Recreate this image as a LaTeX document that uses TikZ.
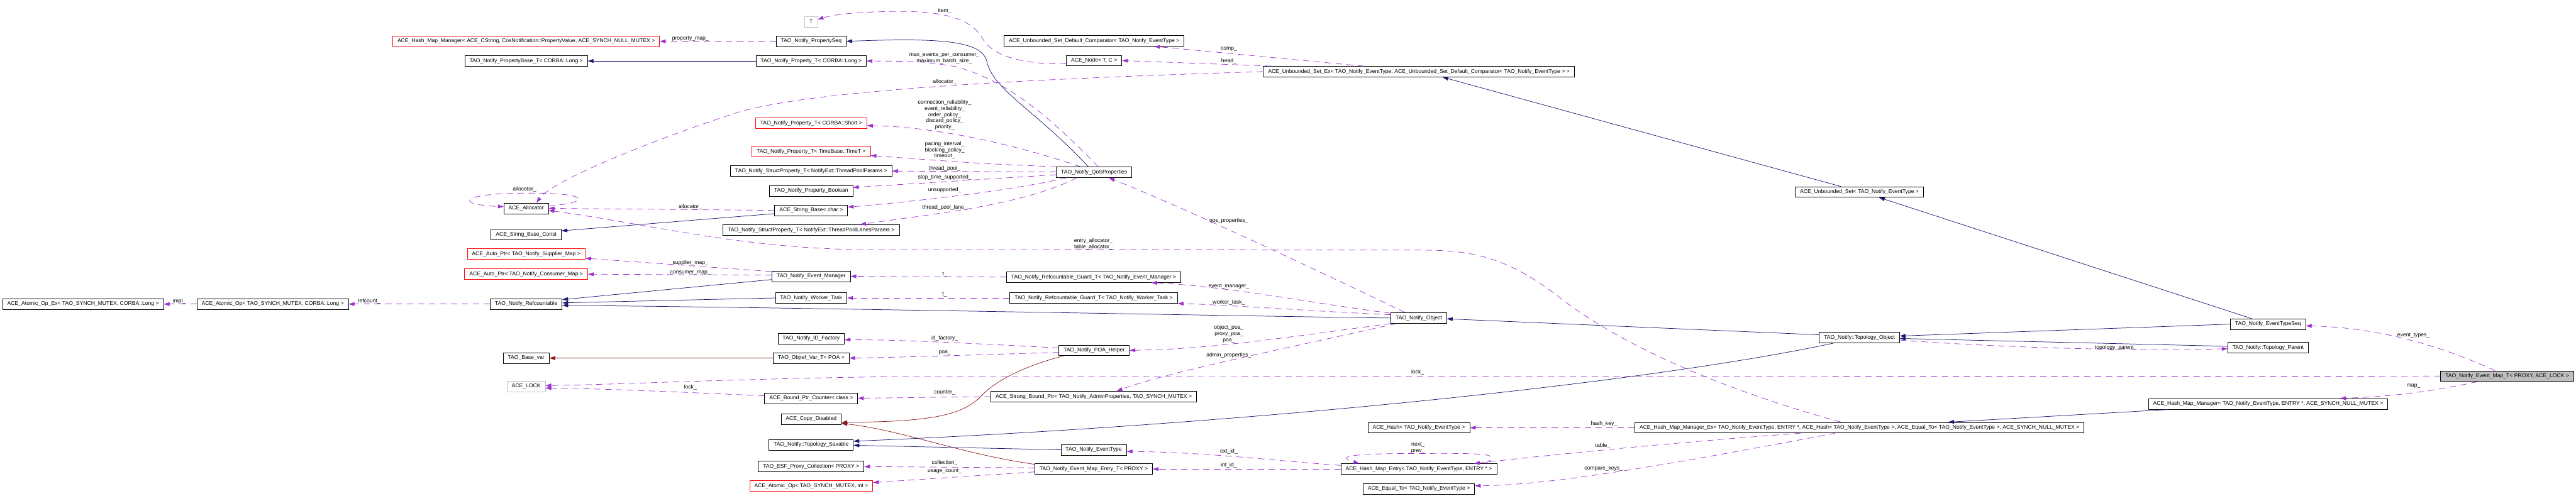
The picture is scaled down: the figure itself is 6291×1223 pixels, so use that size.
\documentclass[tikz,border=0pt]{standalone}
\usepackage{fontspec}
\setmainfont{Liberation Sans}
\usepackage{tikz}
\usetikzlibrary{arrows.meta,calc}
\definecolor{inhblue}{HTML}{191970}
\definecolor{privred}{HTML}{8B1A1A}
\definecolor{usepurple}{HTML}{9A32CD}
\definecolor{nodegray}{HTML}{BFBFBF}

\begin{document}
\begin{tikzpicture}[
  x=0.025cm, y=-0.025cm,
  font=\fontsize{9.4}{10.6}\selectfont,
  >={Triangle[length=3.5mm,width=2.3mm]},
  cls/.style={draw, fill=white, minimum height=6.5mm, inner xsep=8.2pt, inner ysep=0pt, line width=0.8pt},
  trunc/.style={cls, draw=red},
  undoc/.style={cls, draw=nodegray},
  cur/.style={cls, fill=nodegray},
  pub/.style={->, draw=inhblue, line width=0.8pt},
  priv/.style={->, draw=privred, line width=0.8pt},
  uses/.style={->, draw=usepurple, line width=0.8pt, dash pattern=on 11pt off 8pt},
  lbl/.style={inner sep=0pt, align=center}
]
\useasboundingbox (0,0) rectangle (6291,1223);
% left end
\node[cls]   (atomicex)   at (203,743)  {ACE\_Atomic\_Op\_Ex< TAO\_SYNCH\_MUTEX, CORBA::Long >};
\node[cls]   (atomiclong) at (666,743)  {ACE\_Atomic\_Op< TAO\_SYNCH\_MUTEX, CORBA::Long >};
% third column
\node[trunc] (hashcstr)   at (1285,101) {ACE\_Hash\_Map\_Manager< ACE\_CString, CosNotification::PropertyValue, ACE\_SYNCH\_NULL\_MUTEX >};
\node[cls]   (propbase)   at (1285,149) {TAO\_Notify\_PropertyBase\_T< CORBA::Long >};
\node[cls]   (alloc)      at (1285,509) {ACE\_Allocator};
\node[cls]   (strconst)   at (1285,573) {ACE\_String\_Base\_Const};
\node[trunc] (supmap)     at (1285,621) {ACE\_Auto\_Ptr< TAO\_Notify\_Supplier\_Map >};
\node[trunc] (conmap)     at (1285,670) {ACE\_Auto\_Ptr< TAO\_Notify\_Consumer\_Map >};
\node[cls]   (refcnt)     at (1285,743) {TAO\_Notify\_Refcountable};
\node[cls]   (basevar)    at (1285,875) {TAO\_Base\_var};
\node[undoc] (acelock)    at (1285,944) {ACE\_LOCK};
% fourth column
\node[undoc] (tparam)     at (1981,53)  {T};
\node[cls]   (propseq)    at (1981,101) {TAO\_Notify\_PropertySeq};
\node[cls]   (proplong)   at (1981,149) {TAO\_Notify\_Property\_T< CORBA::Long >};
\node[trunc] (propshort)  at (1981,301) {TAO\_Notify\_Property\_T< CORBA::Short >};
\node[trunc] (proptime)   at (1981,370) {TAO\_Notify\_Property\_T< TimeBase::TimeT >};
\node[cls]   (tpparams)   at (1981,418) {TAO\_Notify\_StructProperty\_T< NotifyExt::ThreadPoolParams >};
\node[cls]   (propbool)   at (1981,466) {TAO\_Notify\_Property\_Boolean};
\node[cls]   (strbase)    at (1981,514) {ACE\_String\_Base< char >};
\node[cls]   (tplanes)    at (1981,562) {TAO\_Notify\_StructProperty\_T< NotifyExt::ThreadPoolLanesParams >};
\node[cls]   (evmgr)      at (1981,675) {TAO\_Notify\_Event\_Manager};
\node[cls]   (worker)     at (1981,728) {TAO\_Notify\_Worker\_Task};
\node[cls]   (idfact)     at (1981,827) {TAO\_Notify\_ID\_Factory};
\node[cls]   (objref)     at (1981,875) {TAO\_Objref\_Var\_T< POA >};
\node[cls]   (boundcnt)   at (1981,973) {ACE\_Bound\_Ptr\_Counter< class >};
\node[cls]   (copydis)    at (1981,1024) {ACE\_Copy\_Disabled};
\node[cls]   (savable)    at (1981,1087) {TAO\_Notify::Topology\_Savable};
\node[cls]   (esfcoll)    at (1981,1140) {TAO\_ESF\_Proxy\_Collection< PROXY >};
\node[trunc] (atomicint)  at (1981,1187) {ACE\_Atomic\_Op< TAO\_SYNCH\_MUTEX, int >};
% fifth column
\node[cls]   (comparator) at (2672,100) {ACE\_Unbounded\_Set\_Default\_Comparator< TAO\_Notify\_EventType >};
\node[cls]   (acenode)    at (2672,148) {ACE\_Node< T, C >};
\node[cls]   (qos)        at (2672,421) {TAO\_Notify\_QoSProperties};
\node[cls]   (guardmgr)   at (2671,677) {TAO\_Notify\_Refcountable\_Guard\_T< TAO\_Notify\_Event\_Manager >};
\node[cls]   (guardwrk)   at (2671,728) {TAO\_Notify\_Refcountable\_Guard\_T< TAO\_Notify\_Worker\_Task >};
\node[cls]   (poahelp)    at (2672,856) {TAO\_Notify\_POA\_Helper};
\node[cls]   (strongptr)  at (2671,969) {ACE\_Strong\_Bound\_Ptr< TAO\_Notify\_AdminProperties, TAO\_SYNCH\_MUTEX >};
\node[cls]   (evtype)     at (2671,1099) {TAO\_Notify\_EventType};
\node[cls]   (mapentry)   at (2671,1146) {TAO\_Notify\_Event\_Map\_Entry\_T< PROXY >};
% sixth column
\node[cls]   (setex)      at (3465,175) {ACE\_Unbounded\_Set\_Ex< TAO\_Notify\_EventType, ACE\_Unbounded\_Set\_Default\_Comparator< TAO\_Notify\_EventType > >};
\node[cls]   (object)     at (3465,777) {TAO\_Notify\_Object};
\node[cls]   (acehash)    at (3465,1045) {ACE\_Hash< TAO\_Notify\_EventType >};
\node[cls]   (hashentry)  at (3465,1146) {ACE\_Hash\_Map\_Entry< TAO\_Notify\_EventType, ENTRY * >};
\node[cls]   (equalto)    at (3465,1194) {ACE\_Equal\_To< TAO\_Notify\_EventType >};
% right part
\node[cls]   (uset)       at (4541,469) {ACE\_Unbounded\_Set< TAO\_Notify\_EventType >};
\node[cls]   (topobj)     at (4541,825) {TAO\_Notify::Topology\_Object};
\node[cls]   (hashmgrex)  at (4541,1045) {ACE\_Hash\_Map\_Manager\_Ex< TAO\_Notify\_EventType, ENTRY *, ACE\_Hash< TAO\_Notify\_EventType >, ACE\_Equal\_To< TAO\_Notify\_EventType >, ACE\_SYNCH\_NULL\_MUTEX >};
\node[cls]   (evtseq)     at (5539,792) {TAO\_Notify\_EventTypeSeq};
\node[cls]   (topparent)  at (5539,849) {TAO\_Notify::Topology\_Parent};
\node[cls]   (hashmgr)    at (5539,987) {ACE\_Hash\_Map\_Manager< TAO\_Notify\_EventType, ENTRY *, ACE\_SYNCH\_NULL\_MUTEX >};
\node[cur]   (evmap)      at (6123,919) {TAO\_Notify\_Event\_Map\_T< PROXY, ACE\_LOCK >};
% edge labels
\node[lbl] (l_propmap)  at (1686,94)  {property\_map\_};
\node[lbl] (l_item)     at (2307,27)  {item\_};
\node[lbl] (l_maxev)    at (2306,142) {max\_events\_per\_consumer\_\\maximum\_batch\_size\_};
\node[lbl] (l_comp)     at (3001,120) {comp\_};
\node[lbl] (l_head)     at (3001,150) {head\_};
\node[lbl] (l_setalloc) at (2307,200) {allocator\_};
\node[lbl] (l_short)    at (2307,281) {connection\_reliability\_\\event\_reliability\_\\order\_policy\_\\discard\_policy\_\\priority\_};
\node[lbl] (l_time)     at (2307,367) {pacing\_interval\_\\blocking\_policy\_\\timeout\_};
\node[lbl] (l_tpool)    at (2307,412) {thread\_pool\_};
\node[lbl] (l_stop)     at (2307,433) {stop\_time\_supported\_};
\node[lbl] (l_unsup)    at (2307,465) {unsupported\_};
\node[lbl] (l_lane)     at (2307,508) {thread\_pool\_lane\_};
\node[lbl] (l_selfall)  at (1281,462) {allocator\_};
\node[lbl] (l_stralloc) at (1686,506) {allocator\_};
\node[lbl] (l_tables)   at (2670,596) {entry\_allocator\_\\table\_allocator\_};
\node[lbl] (l_qos)      at (3001,539) {qos\_properties\_};
\node[lbl] (l_supmap)   at (1686,642) {supplier\_map\_};
\node[lbl] (l_conmap)   at (1686,667) {consumer\_map\_};
\node[lbl] (l_tmgr)     at (2307,671) {t\_};
\node[lbl] (l_twrk)     at (2307,720) {t\_};
\node[lbl] (l_evmgr)    at (3001,700) {event\_manager\_};
\node[lbl] (l_worker)   at (3001,739) {worker\_task\_};
\node[lbl] (l_refcnt)   at (901,736)  {refcount\_};
\node[lbl] (l_impl)     at (438,736)  {impl\_};
\node[lbl] (l_poas)     at (3001,816) {object\_poa\_\\proxy\_poa\_\\poa\_};
\node[lbl] (l_idfact)   at (2307,827) {id\_factory\_};
\node[lbl] (l_poa)      at (2307,862) {poa\_};
\node[lbl] (l_admin)    at (3001,868) {admin\_properties\_};
\node[lbl] (l_maplock)  at (3462,910) {lock\_};
\node[lbl] (l_cntlock)  at (1686,947) {lock\_};
\node[lbl] (l_counter)  at (2307,959) {counter\_};
\node[lbl] (l_topopar)  at (5167,849) {topology\_parent\_};
\node[lbl] (l_evtypes)  at (5894,819) {event\_types\_};
\node[lbl] (l_map)      at (5894,943) {map\_};
\node[lbl] (l_hashkey)  at (3917,1036) {hash\_key\_};
\node[lbl] (l_table)    at (3914,1090) {table\_};
\node[lbl] (l_nextprev) at (3463,1094) {next\_\\prev\_};
\node[lbl] (l_compare)  at (3916,1144) {compare\_keys\_};
\node[lbl] (l_extid)    at (3001,1103) {ext\_id\_};
\node[lbl] (l_intid)    at (3001,1137) {int\_id\_};
\node[lbl] (l_coll)     at (2307,1131) {collection\_};
\node[lbl] (l_usage)    at (2307,1152) {usage\_count\_};
% inheritance
\draw[pub] ($(qos.north)+(-14,0)$) .. controls (2530,270) and (2425,220) .. (2410,150)
           .. controls (2398,100) and (2300,92) .. (propseq.east);
\draw[pub] (proplong.west) -- (propbase.east);
\draw[pub] ($(strbase.west)+(0,8)$) -- ($(strconst.east)+(0,-9)$);
\draw[pub] ($(uset.north)+(-46,0)$) -- ($(setex.south)+(58,0)$);
\draw[pub] ($(evtseq.north)+(-40,0)$) -- ($(uset.south)+(48,0)$);
\draw[pub] ($(evmgr.west)+(0,8)$) -- ($(refcnt.east)+(0,-11)$);
\draw[pub] (worker.west) -- ($(refcnt.east)+(0,-3)$);
\draw[pub] (object.west) .. controls (3000,772) and (2000,752) .. ($(refcnt.east)+(0,3)$);
\draw[pub] ($(topobj.south west)+(35,0)$) .. controls (4000,940) and (3000,1040) .. ($(savable.east)+(0,-9)$);
\draw[pub] (evtype.west) -- ($(savable.east)+(0,1)$);
\draw[pub] ($(topobj.west)+(0,-7)$) -- ($(object.east)+(0,2)$);
\draw[pub] ($(topparent.west)+(0,-3)$) -- ($(topobj.east)+(0,2)$);
\draw[pub] (evtseq.west) -- ($(topobj.east)+(0,-4)$);
\draw[pub] ($(hashmgr.south west)+(50,0)$) -- ($(hashmgrex.north)+(217,0)$);
\draw[priv] (objref.west) -- (basevar.east);
\draw[priv] ($(poahelp.south west)+(12,0)$) .. controls (2480,900) and (2420,940) .. (2391,973)
            .. controls (2340,1020) and (2250,1030) .. ($(copydis.east)+(0,8)$);
\draw[priv] ($(mapentry.north west)+(0,2)$) .. controls (2350,1110) and (2200,1050) .. ($(copydis.south east)+(0,-3)$);
% usage
\draw[uses] (propseq.west) -- (hashcstr.east);
\draw[uses] ($(qos.north)+(10,0)$) .. controls (2540,260) and (2440,190) .. (2330,162)
            .. controls (2250,150) .. (proplong.east);
\draw[uses] ($(acenode.west)+(0,8)$) .. controls (2480,158) and (2420,130) .. (2400,95)
            .. controls (2370,40) and (2290,28) .. (2200,28)
            .. controls (2100,28) and (2040,35) .. ($(tparam.east)+(0,-6)$);
\draw[uses] ($(setex.north west)+(246,0)$) .. controls (3200,150) and (2950,125) .. ($(comparator.south)+(147,0)$);
\draw[uses] ($(setex.north west)+(20,0)$) -- (acenode.east);
\draw[uses] (setex.west) .. controls (2600,190) and (2000,215) .. (1800,275)
            .. controls (1600,340) and (1350,440) .. ($(alloc.north)+(25,0)$);
\draw[uses] ($(qos.north west)+(60,0)$) .. controls (2500,360) and (2300,310) .. ($(propshort.east)+(0,6)$);
\draw[uses] (qos.north west) .. controls (2400,400) .. ($(proptime.east)+(0,10)$);
\draw[uses] ($(qos.west)+(0,-1)$) -- (tpparams.east);
\draw[uses] ($(qos.west)+(0,6)$) -- ($(propbool.east)+(0,-8)$);
\draw[uses] ($(qos.south west)+(25,0)$) .. controls (2450,470) and (2200,495) .. ($(strbase.east)+(0,-8)$);
\draw[uses] ($(qos.south west)+(50,0)$) .. controls (2500,500) and (2300,520) .. ($(tplanes.north east)+(-96,0)$);
\draw[uses] (strbase.west) -- (alloc.east);
\draw[uses] ($(alloc.east)+(0,-6)$) .. controls (1450,495) and (1440,470) .. (1285,472)
            .. controls (1120,472) and (1110,500) .. ($(alloc.west)+(0,-4)$);
\draw[uses] ($(hashmgrex.north west)+(504,0)$) .. controls (4200,950) and (3950,840) .. (3800,720)
            .. controls (3680,630) and (3600,611) .. (3467,611) -- (2100,610)
            .. controls (1800,605) and (1600,550) .. ($(alloc.east)+(0,5)$);
\draw[uses] ($(object.north)+(-34,0)$) .. controls (3300,700) and (2900,510) .. ($(qos.south)+(36,0)$);
\draw[uses] (refcnt.west) -- (atomiclong.east);
\draw[uses] (atomiclong.west) -- (atomicex.east);
\draw[uses] ($(evmgr.north west)+(0,2)$) -- ($(supmap.east)+(0,10)$);
\draw[uses] ($(evmgr.west)+(0,-3)$) -- (conmap.east);
\draw[uses] (guardmgr.west) -- (evmgr.east);
\draw[uses] (guardwrk.west) -- (worker.east);
\draw[uses] ($(object.north west)+(0,2)$) .. controls (3200,740) and (3000,700) .. ($(guardmgr.south east)+(-73,0)$);
\draw[uses] ($(object.west)+(0,-8)$) .. controls (3200,760) and (3000,745) .. (guardwrk.south east);
\draw[uses] (object.south west) .. controls (3100,830) and (2950,853) .. (poahelp.east);
\draw[uses] ($(object.south west)+(14,0)$) .. controls (3100,860) and (2850,910) .. ($(strongptr.north)+(56,0)$);
\draw[uses] ($(poahelp.west)+(0,-6)$) .. controls (2350,838) and (2200,830) .. ($(idfact.east)+(0,3)$);
\draw[uses] ($(poahelp.west)+(0,5)$) .. controls (2350,868) and (2200,873) .. (objref.east);
\draw[uses] (evmap.west) -- (2200,920) .. controls (1800,925) and (1500,940) .. ($(acelock.east)+(0,-2)$);
\draw[uses] ($(boundcnt.west)+(0,-6)$) .. controls (1700,960) and (1500,950) .. ($(acelock.east)+(0,4)$);
\draw[uses] (strongptr.west) -- (boundcnt.east);
\draw[uses] ($(topobj.east)+(0,6)$) .. controls (4900,850) and (5200,858) .. ($(topparent.west)+(0,3)$);
\draw[uses] ($(evmap.north)+(-30,0)$) .. controls (5950,840) and (5800,800) .. ($(evtseq.east)+(0,4)$);
\draw[uses] ($(evmap.south)+(-73,0)$) .. controls (5900,965) and (5800,970) .. ($(hashmgr.north)+(176,0)$);
\draw[uses] (hashmgrex.west) -- (acehash.east);
\draw[uses] ($(hashmgrex.south west)+(405,0)$) .. controls (4100,1080) and (3800,1110) .. ($(hashentry.north east)+(-56,0)$);
\draw[uses] ($(hashmgrex.south west)+(490,0)$) .. controls (4100,1130) and (3800,1185) .. ($(equalto.east)+(0,-7)$);
\draw[uses] ($(hashentry.north east)+(-30,0)$) .. controls (3680,1105) and (3600,1108) .. (3463,1108)
            .. controls (3300,1108) and (3260,1115) .. ($(hashentry.north west)+(45,0)$);
\draw[uses] ($(hashentry.west)+(0,-9)$) .. controls (3100,1125) and (2950,1105) .. ($(evtype.east)+(0,4)$);
\draw[uses] (hashentry.west) -- (mapentry.east);
\draw[uses] ($(mapentry.west)+(0,-3)$) -- (esfcoll.east);
\draw[uses] ($(mapentry.west)+(0,7)$) -- ($(atomicint.east)+(0,-8)$);
\end{tikzpicture}
\end{document}
